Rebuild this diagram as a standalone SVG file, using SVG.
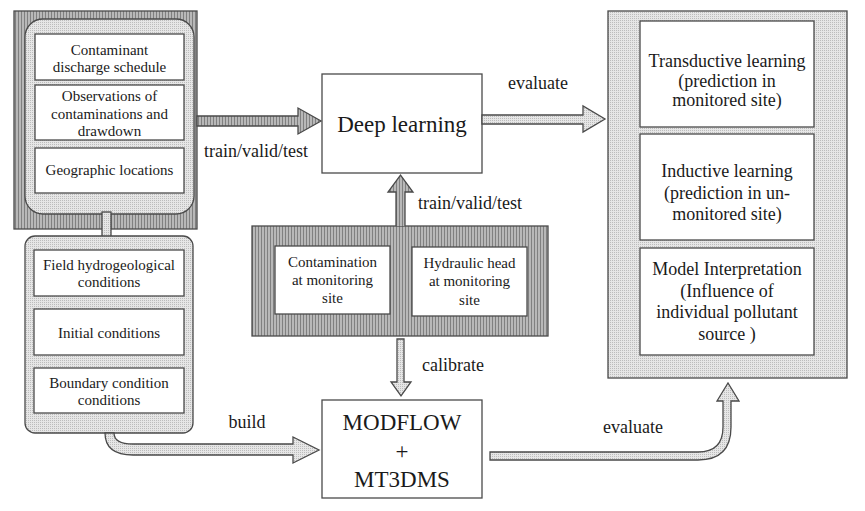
<svg xmlns="http://www.w3.org/2000/svg" width="865" height="511" viewBox="0 0 865 511">
<defs>
<pattern id="dark" width="3" height="3" patternUnits="userSpaceOnUse"><rect width="3" height="3" fill="#b8b8b8"/><rect width="1" height="3" fill="#808080"/></pattern>
<pattern id="light" width="2" height="2" patternUnits="userSpaceOnUse"><rect width="2" height="2" fill="#e6e6e6"/><rect width="1" height="1" fill="#bcbcbc"/></pattern>
<style>
.dk{fill:url(#dark);stroke:#4a4a4a;stroke-width:1.3}
.lt{fill:url(#light);stroke:#4a4a4a;stroke-width:1.3}
.bx{fill:#fff;stroke:#4a4a4a;stroke-width:1.3}
text{font-family:"Liberation Serif","Times New Roman",serif;fill:#1a1a1a;text-anchor:middle}
.s{font-size:15px}
.m{font-size:18px}
.l{font-size:23px}
</style>
</defs>
<rect width="865" height="511" fill="#fff"/>

<g id="inputs-panel">
<rect class="dk" x="14" y="11" width="183" height="218"/>
<rect class="lt" x="25" y="19" width="169" height="195" rx="18"/>
</g>
<g id="contaminant-discharge">
<rect class="bx" x="35" y="34" width="149" height="46"/>
<text class="s" x="109.5" y="55">Contaminant</text>
<text class="s" x="109.5" y="72">discharge schedule</text>
</g>
<g id="observations">
<rect class="bx" x="35" y="85" width="149" height="55"/>
<text class="s" x="109.5" y="101">Observations of</text>
<text class="s" x="109.5" y="119">contaminations and</text>
<text class="s" x="109.5" y="136">drawdown</text>
</g>
<g id="geographic">
<rect class="bx" x="35" y="148" width="149" height="45"/>
<text class="s" x="109.5" y="175">Geographic locations</text>
</g>

<g id="model-inputs-panel">
<rect class="lt" x="102" y="212" width="9" height="26"/>
<rect class="lt" x="25" y="236" width="168" height="197" rx="10"/>
</g>
<g id="field-hydro">
<rect class="bx" x="34" y="250" width="150" height="46"/>
<text class="s" x="109" y="270">Field hydrogeological</text>
<text class="s" x="109" y="287">conditions</text>
</g>
<g id="initial-conditions">
<rect class="bx" x="34" y="309" width="150" height="46"/>
<text class="s" x="109" y="338">Initial conditions</text>
</g>
<g id="boundary-conditions">
<rect class="bx" x="34" y="368" width="150" height="45"/>
<text class="s" x="109" y="388">Boundary condition</text>
<text class="s" x="109" y="405">conditions</text>
</g>

<g id="deep-learning">
<rect class="bx" x="322" y="74" width="160" height="99"/>
<text class="l" x="402" y="132">Deep learning</text>
</g>

<g id="monitoring-panel">
<rect class="dk" x="252" y="226" width="296" height="110"/>
</g>
<g id="contamination-site">
<rect class="bx" x="275" y="246" width="115" height="68"/>
<text class="s" x="332.5" y="267">Contamination</text>
<text class="s" x="332.5" y="285">at monitoring</text>
<text class="s" x="332.5" y="303">site</text>
</g>
<g id="hydraulic-head">
<rect class="bx" x="412" y="247" width="115" height="69"/>
<text class="s" x="469.5" y="268">Hydraulic head</text>
<text class="s" x="469.5" y="286">at monitoring</text>
<text class="s" x="469.5" y="305">site</text>
</g>

<g id="modflow">
<rect class="bx" x="322" y="400" width="160" height="98"/>
<text class="l" x="402" y="430">MODFLOW</text>
<text class="l" x="402" y="459">+</text>
<text class="l" x="402" y="487">MT3DMS</text>
</g>

<g id="outputs-panel">
<rect class="lt" x="608" y="11" width="239" height="367"/>
</g>
<g id="transductive">
<rect class="bx" x="640" y="21" width="174" height="106"/>
<text class="m" x="727" y="67">Transductive learning</text>
<text class="m" x="727" y="87">(prediction in</text>
<text class="m" x="727" y="106">monitored site)</text>
</g>
<g id="inductive">
<rect class="bx" x="640" y="134" width="174" height="106"/>
<text class="m" x="727" y="177">Inductive learning</text>
<text class="m" x="727" y="199">(prediction in un-</text>
<text class="m" x="727" y="220">monitored site)</text>
</g>
<g id="interpretation">
<rect class="bx" x="640" y="248" width="174" height="107"/>
<text class="m" x="727" y="275">Model Interpretation</text>
<text class="m" x="727" y="297">(Influence of</text>
<text class="m" x="727" y="318">individual pollutant</text>
<text class="m" x="727" y="340">source )</text>
</g>

<g id="connectors">
<path class="dk" d="M197,116 H298 V108 L321,121 L298,134 V126 H197 Z"/>
<text class="m" x="256" y="157">train/valid/test</text>
<path class="lt" d="M482,115 H583 V106 L605,119 L583,132 V124 H482 Z"/>
<text class="m" x="538" y="89">evaluate</text>
<path class="dk" d="M396,226 V192 H388 L400.5,175 L413,192 H405 V226" />
<text class="m" x="470" y="209">train/valid/test</text>
<path class="lt" d="M397,339 H404 V382 H411 L401,396 L391,382 H397 Z"/>
<text class="m" x="453" y="371">calibrate</text>
<path class="lt" d="M105,433 Q105,455 133,455 H293 V463 L319,450 L293,437 V444 H133 Q114,444 114,433 Z"/>
<text class="m" x="247" y="428">build</text>
<path class="lt" d="M490,452 H698 Q723,452 723,427 V401 H717 L728,383 L739,401 H731 V427 Q731,460 698,460 H490 Z"/>
<text class="m" x="633" y="433">evaluate</text>
</g>
</svg>
